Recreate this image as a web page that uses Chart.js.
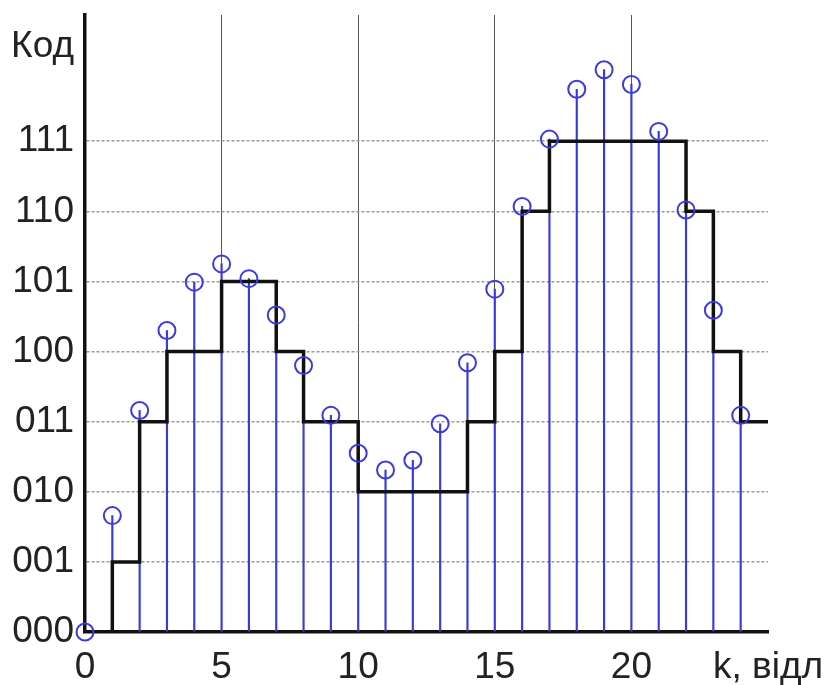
<!DOCTYPE html>
<html>
<head>
<meta charset="utf-8">
<script src="https://cdn.jsdelivr.net/npm/chart.js@4.4.1/dist/chart.umd.min.js"></script>
<style>
  html, body { margin: 0; padding: 0; background: #fff; }
  #wrap { width: 824px; height: 685px; }
</style>
</head>
<body>
<div id="wrap"><canvas id="chart"></canvas></div>
<script>
// sample index k
const samples = [0, 1, 2, 3, 4, 5, 6, 7, 8, 9, 10, 11, 12, 13, 14, 15, 16, 17, 18, 19, 20, 21, 22, 23, 24];
// signal value at each sample (circles on stems)
const signal = [0, 1.66, 3.16, 4.30, 4.99, 5.25, 5.04, 4.52, 3.80, 3.09, 2.55, 2.31, 2.45, 2.97, 3.84,
  4.89, 6.07, 7.03, 7.74, 8.02, 7.81, 7.14, 6.02, 4.59, 3.09];
// quantized level held from k to k+1
const levels = [0, 1, 3, 4, 4, 5, 5, 4, 3, 3, 2, 2, 2, 2, 3, 4, 6, 7, 7, 7, 7, 7, 6, 4, 3];
const codeLabels = ["000", "001", "010", "011", "100", "101", "110", "111"];
const xTickValues = [0, 5, 10, 15, 20, 25];
const xAxisTitle = "k, відл";
const yAxisTitle = "Код";
const yTitlePos = 8.35;
const kEnd = 25;

const font = { family: "'Liberation Sans', Arial, sans-serif", size: 37 };

const stemPts = samples.map((k, i) => ({ x: k, y: signal[i] }));
const stepPts = samples.map((k, i) => ({ x: k, y: levels[i] }));
stepPts.push({ x: kEnd, y: levels[levels.length - 1] });

new Chart(document.getElementById("chart"), {
  data: {
    datasets: [
      {
        type: "bar",
        data: stemPts,
        backgroundColor: "#3a3ad8",
        barThickness: 1.5,
        order: 3
      },
      {
        type: "line",
        data: stepPts,
        stepped: "before",
        borderColor: "#111",
        borderWidth: 3.5,
        pointRadius: 0,
        fill: false,
        order: 2
      },
      {
        type: "scatter",
        data: stemPts,
        pointStyle: "circle",
        pointRadius: 8.5,
        borderWidth: 2,
        borderColor: "#3a3ae0",
        backgroundColor: "rgba(0,0,0,0)",
        clip: false,
        order: 1
      }
    ]
  },
  options: {
    responsive: true,
    maintainAspectRatio: false,
    animation: false,
    layout: { padding: { top: 15, right: 56, left: 0, bottom: 0 } },
    plugins: { legend: { display: false }, tooltip: { enabled: false } },
    scales: {
      x: {
        type: "linear",
        min: 0,
        max: kEnd,
        offset: false,
        afterBuildTicks: s => { s.ticks = xTickValues.map(v => ({ value: v })); },
        afterFit: s => { s.height = 53; s.paddingLeft = 0; s.paddingRight = 0; },
        ticks: {
          font: font,
          color: "#222",
          padding: 14,
          maxRotation: 0,
          autoSkip: false,
          callback: v => (v === kEnd ? xAxisTitle : String(v))
        },
        grid: {
          offset: false,
          drawTicks: false,
          lineWidth: 1,
          color: ctx => (ctx.tick && (ctx.tick.value === 0 || ctx.tick.value === kEnd) ? "rgba(0,0,0,0)" : "#555")
        },
        border: { display: true, color: "#111", width: 3.5 }
      },
      y: {
        type: "linear",
        min: 0,
        max: 8.8,
        afterBuildTicks: s => {
          s.ticks = codeLabels.map((c, i) => ({ value: i }));
          s.ticks.push({ value: yTitlePos });
        },
        afterFit: s => { s.width = 85; s.paddingTop = 0; s.paddingBottom = 0; },
        ticks: {
          font: font,
          color: "#222",
          padding: 11,
          autoSkip: false,
          callback: v => (v === yTitlePos ? yAxisTitle : codeLabels[v])
        },
        grid: {
          drawTicks: false,
          lineWidth: 1.5,
          color: ctx => (ctx.tick && (ctx.tick.value === 0 || ctx.tick.value === yTitlePos) ? "rgba(0,0,0,0)" : "#9a9a9a")
        },
        border: { display: true, color: "#111", width: 3.5, dash: [3, 2] }
      }
    }
  }
});
</script>
</body>
</html>
